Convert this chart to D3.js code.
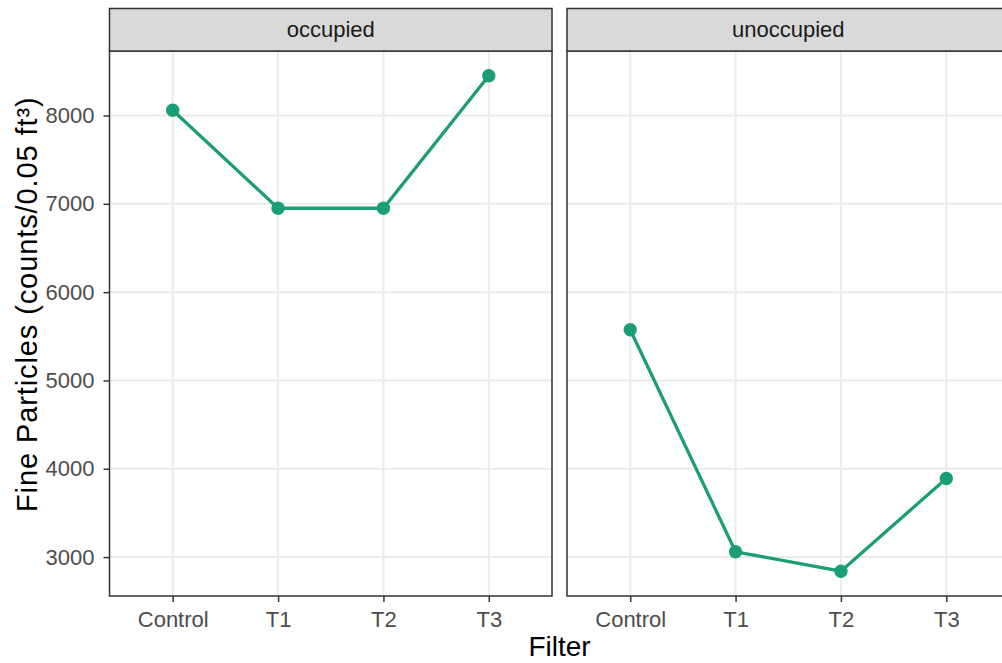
<!DOCTYPE html>
<html>
<head>
<meta charset="utf-8">
<script src="https://cdn.jsdelivr.net/npm/d3@7"></script>
<style>
  body { margin: 0; background: #fff; }
  text { font-family: "Liberation Sans", Arial, sans-serif; }
</style>
</head>
<body>
<script>
// data
let filters = ['Control', 'T1', 'T2', 'T3'];
let panels = ['occupied', 'unoccupied'];
let occupiedValues = [8060, 6950, 6950, 8450];
let unoccupiedValues = [5575, 3060, 2840, 3890];
let yTicks = [3000, 4000, 5000, 6000, 7000, 8000];

let lineColor = '#1b9e77';
let fontStack = '"Liberation Sans", Arial, sans-serif';

let width = 1002, height = 663;
let margin = { top: 8.5, left: 109.5, bottom: 67, right: 0 };
let panelWidth = 442.5, panelGap = 15, stripHeight = 42.5;
let panelTop = margin.top + stripHeight;
let panelBottom = height - margin.bottom;

let svg = d3.select('body').append('svg').attr('width', width).attr('height', height);

let allValues = occupiedValues.concat(unoccupiedValues);
let ext = d3.extent(allValues);
let pad = (ext[1] - ext[0]) * 0.05;
let y = d3.scaleLinear().domain([ext[0] - pad, ext[1] + pad]).range([panelBottom, panelTop]);

let x = d3.scalePoint().domain(filters).range([0, panelWidth]).padding(0.6);

let seriesByPanel = { occupied: occupiedValues, unoccupied: unoccupiedValues };

panels.forEach(function(name, pi) {
  let x0 = margin.left + pi * (panelWidth + panelGap);
  let g = svg.append('g').attr('transform', 'translate(' + x0 + ',0)');

  // grid
  g.selectAll('.hgrid').data(yTicks).enter().append('line')
    .attr('x1', 0).attr('x2', panelWidth)
    .attr('y1', d => y(d)).attr('y2', d => y(d))
    .attr('stroke', '#ebebeb').attr('stroke-width', 2);
  g.selectAll('.vgrid').data(filters).enter().append('line')
    .attr('x1', d => x(d)).attr('x2', d => x(d))
    .attr('y1', panelTop).attr('y2', panelBottom)
    .attr('stroke', '#ebebeb').attr('stroke-width', 2);

  // line + points
  let vals = seriesByPanel[name];
  let pts = filters.map((f, i) => ({ f: f, v: vals[i] }));
  g.append('path').datum(pts)
    .attr('d', d3.line().x(d => x(d.f)).y(d => y(d.v)))
    .attr('fill', 'none').attr('stroke', lineColor).attr('stroke-width', 3.3);
  g.selectAll('.pt').data(pts).enter().append('circle')
    .attr('cx', d => x(d.f)).attr('cy', d => y(d.v)).attr('r', 6.7)
    .attr('fill', lineColor);

  // panel border
  g.append('rect').attr('x', 0).attr('y', panelTop)
    .attr('width', panelWidth).attr('height', panelBottom - panelTop)
    .attr('fill', 'none').attr('stroke', '#333').attr('stroke-width', 1.5);

  // strip
  g.append('rect').attr('x', 0).attr('y', margin.top)
    .attr('width', panelWidth).attr('height', stripHeight)
    .attr('fill', '#d9d9d9').attr('stroke', '#333').attr('stroke-width', 1.5);
  g.append('text').attr('x', panelWidth / 2).attr('y', margin.top + stripHeight / 2 + 7.5)
    .attr('text-anchor', 'middle').attr('font-size', 22).attr('fill', '#1a1a1a')
    .text(name);

  // x axis
  let xa = g.append('g').attr('transform', 'translate(0,' + panelBottom + ')')
    .call(d3.axisBottom(x).tickSize(6).tickPadding(9));
  xa.select('.domain').remove();
  xa.selectAll('line').attr('stroke', '#333').attr('stroke-width', 1.5);
  xa.selectAll('text').attr('font-size', 22).attr('fill', '#4d4d4d')
    .style('font-family', fontStack);
});

// y axis on the left panel only
let ya = svg.append('g').attr('transform', 'translate(' + margin.left + ',0)')
  .call(d3.axisLeft(y).tickValues(yTicks).tickSize(6).tickPadding(9).tickFormat(d3.format('d')));
ya.select('.domain').remove();
ya.selectAll('line').attr('stroke', '#333').attr('stroke-width', 1.5);
ya.selectAll('text').attr('font-size', 22).attr('fill', '#4d4d4d')
  .style('font-family', fontStack);

// axis titles
svg.append('text')
  .attr('x', margin.left + (2 * panelWidth + panelGap) / 2).attr('y', 656)
  .attr('text-anchor', 'middle').attr('font-size', 28).attr('fill', '#000')
  .text('Filter');

svg.append('text')
  .attr('transform', 'translate(37,' + ((margin.top + panelBottom) / 2 + 2) + ') rotate(-90)')
  .attr('text-anchor', 'middle').attr('font-size', 29).attr('letter-spacing', 0.9).attr('fill', '#000')
  .text('Fine Particles (counts/0.05 ft³)');
</script>
</body>
</html>
